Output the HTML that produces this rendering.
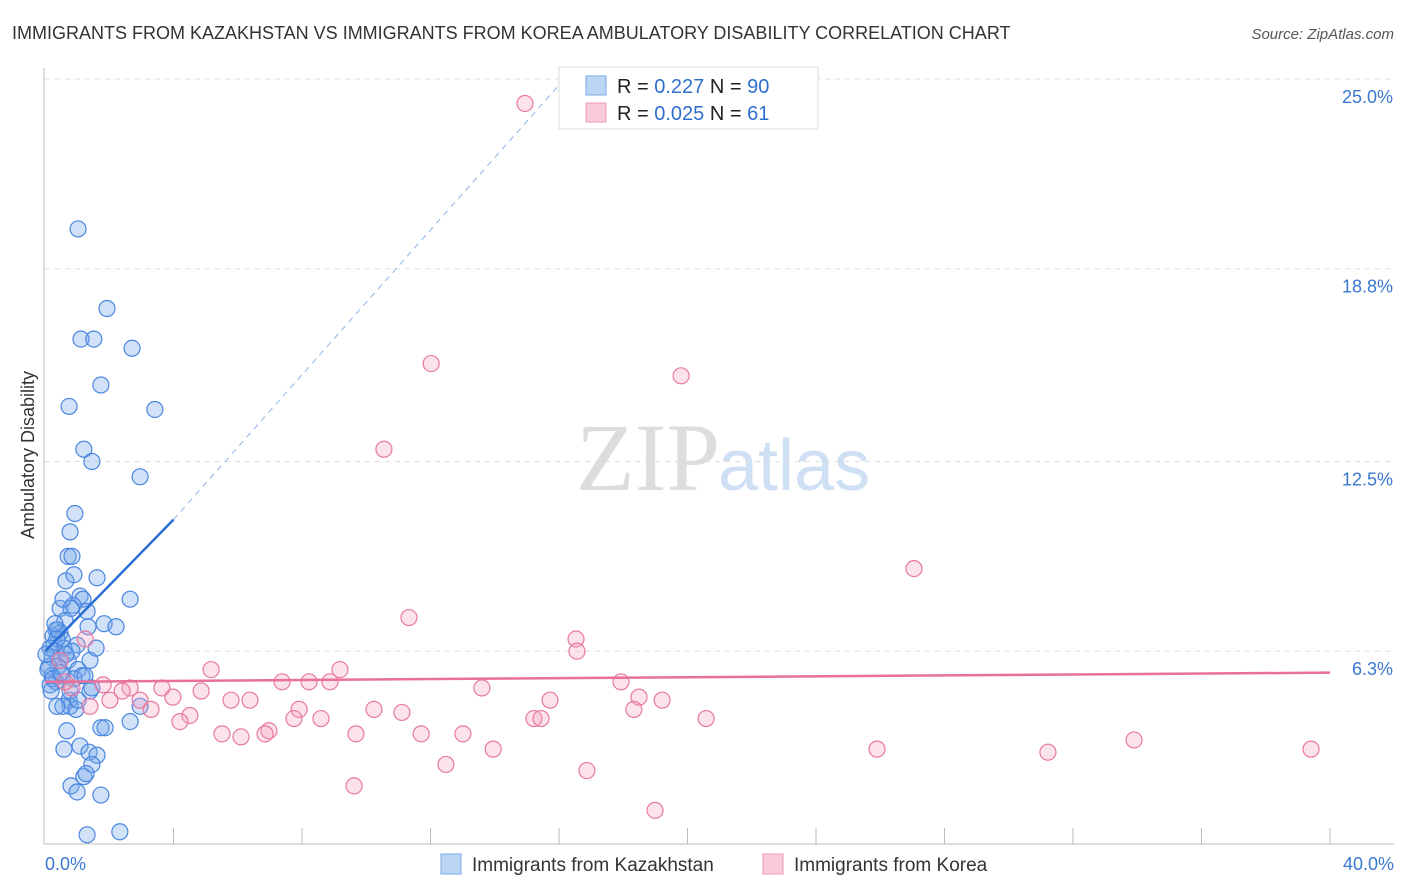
<!DOCTYPE html>
<html><head><meta charset="utf-8"><style>
body{margin:0;background:#fff;font-family:"Liberation Sans",sans-serif;}
svg{display:block}
</style></head><body>
<svg id="c" width="1406" height="892">
<text x="12" y="39" font-size="18" fill="#333">IMMIGRANTS FROM KAZAKHSTAN VS IMMIGRANTS FROM KOREA AMBULATORY DISABILITY CORRELATION CHART</text>
<text x="1394" y="39" font-size="15" fill="#555" font-style="italic" text-anchor="end">Source: ZipAtlas.com</text>
<text x="720" y="490" font-size="96" fill="#ddd" text-anchor="end" font-family="Liberation Serif,serif">ZIP</text>
<text x="718" y="490" font-size="72" fill="#cfe0f5">atlas</text>
<text transform="translate(34,455) rotate(-90)" font-size="18" fill="#333" text-anchor="middle">Ambulatory Disability</text>
<g id="grid"></g><g id="axes"></g><g id="pts"></g><g id="trend"></g>
<g>
<rect x="559" y="67" width="259" height="62" fill="#fff" stroke="#ddd"/>
<rect x="586" y="76" width="20" height="19" fill="#bcd5f5" stroke="#7aa9e6"/>
<rect x="586" y="103" width="20" height="19" fill="#f9cad9" stroke="#ee9ab5"/>
<text x="617" y="93" font-size="20" fill="#222">R = <tspan fill="#2f6fce">0.227</tspan>   N = <tspan fill="#2f6fce">90</tspan></text>
<text x="617" y="120" font-size="20" fill="#222">R = <tspan fill="#2f6fce">0.025</tspan>   N = <tspan fill="#2f6fce"> 61</tspan></text>
</g>
<g>
<rect x="441" y="854" width="20" height="20" fill="#bcd5f5" stroke="#7aa9e6"/>
<text x="472" y="871" font-size="19" fill="#333">Immigrants from Kazakhstan</text>
<rect x="763" y="854" width="20" height="20" fill="#f9cad9" stroke="#ee9ab5"/>
<text x="794" y="871" font-size="19" fill="#333">Immigrants from Korea</text>
</g>
</svg>
<script>
const yTicks=[25.0,18.8,12.5,6.3];
const yTickLabels=["25.0%","18.8%","12.5%","6.3%"];
const xTickLabels=["0.0%","40.0%"];
const blueX=[1.03,1.93,1.12,1.52,2.71,1.74,0.75,3.42,1.21,1.46,2.96,0.93,0.78,0.72,0.84,1.62,0.65,0.9,1.09,1.18,2.65,0.47,0.87,0.81,1.31,0.62,1.84,2.21,1.34,0.34,0.47,0.25,0.53,1.0,0.28,0.59,0.84,0.31,0.22,0.47,0.72,0.40,1.03,1.15,0.12,0.22,0.53,0.9,1.24,0.34,0.16,1.4,1.46,0.75,0.78,0.56,0.37,0.96,2.96,2.65,1.74,1.87,0.59,1.09,1.37,1.62,1.46,1.21,1.28,0.81,1.0,1.74,1.31,2.33,0.37,0.16,0.09,0.25,0.65,0.40,0.5,0.03,0.78,0.31,1.4,0.56,1.59,0.19,1.03,0.68];
const blueY=[20.1,17.5,16.5,16.5,16.2,15.0,14.3,14.2,12.9,12.5,12.0,10.8,10.2,9.4,9.4,8.7,8.6,8.8,8.1,8.0,8.0,7.7,7.8,7.7,7.6,7.3,7.2,7.1,7.1,7.0,6.9,6.8,6.7,6.5,6.5,6.4,6.3,6.3,6.1,6.0,6.0,5.8,5.7,5.5,5.8,5.5,5.5,5.4,5.5,5.3,5.2,5.0,5.1,4.7,4.5,4.5,4.5,4.4,4.5,4.0,3.8,3.8,3.1,3.2,3.0,2.9,2.6,2.2,2.3,1.9,1.7,1.6,0.3,0.4,6.7,6.4,5.7,5.4,6.2,7.0,5.6,6.2,5.0,7.2,6.0,8.0,6.4,5.0,4.7,3.7];
const pinkX=[14.94,12.02,19.8,10.55,27.05,11.33,16.53,16.56,9.18,5.17,8.22,7.38,8.87,3.64,2.65,1.81,13.6,17.93,2.4,4.86,3.98,5.79,6.38,2.02,18.49,19.21,15.72,2.96,7.91,10.24,11.11,3.3,1.4,18.33,4.51,4.2,7.75,8.59,15.22,15.44,20.58,6.97,5.51,6.1,6.85,9.68,11.71,13.01,13.95,25.9,33.9,31.22,39.41,12.48,16.87,9.62,18.99,0.84,0.47,1.25,0.62];
const pinkY=[24.2,15.7,15.3,12.9,9.0,7.4,6.7,6.3,5.7,5.7,5.3,5.3,5.3,5.1,5.1,5.2,5.1,5.3,5.0,5.0,4.8,4.7,4.7,4.7,4.8,4.7,4.7,4.7,4.4,4.4,4.3,4.4,4.5,4.4,4.2,4.0,4.1,4.1,4.1,4.1,4.1,3.7,3.6,3.5,3.6,3.6,3.6,3.6,3.1,3.1,3.4,3.0,3.1,2.6,2.4,1.9,1.1,5.1,6.0,6.7,5.3];
const blueTrend=[0,6.3,4.0,10.6];
const blueDash=[4.0,10.6,16.0,24.8];
const pinkTrend=[0,5.3,40,5.6];
const X=v=>45+v*32.125, Y=v=>844-v*30.6;
const NS="http://www.w3.org/2000/svg";
function mk(t,a,p){const e=document.createElementNS(NS,t);for(const k in a)e.setAttribute(k,a[k]);document.getElementById(p).appendChild(e);return e;}
yTicks.forEach((t,i)=>{
 const g=mk('line',{x1:45,x2:1394,y1:Y(t),y2:Y(t),stroke:'#ddd','stroke-dasharray':'5,5'},'grid');
 
 
 const l=mk('text',{x:1393,y:Y(t)+24,'font-size':18,fill:'#3a78d0','text-anchor':'end'},'axes');
 l.textContent=yTickLabels[i];
 
 
});
const ax=mk('line',{x1:44,x2:44,y1:68,y2:844,stroke:'#bbb'},'axes');


const bx=mk('line',{x1:44,x2:1394,y1:844,y2:844,stroke:'#bbb'},'axes');


for(let i=1;i<=10;i++){const t=mk('line',{x1:X(i*4),x2:X(i*4),y1:828,y2:844,stroke:'#bbb'},'axes');
 
 }
[[0,'start',45],[40,'end',1394]].forEach((d,i)=>{const t=mk('text',{x:d[2],y:870,'font-size':18,fill:'#3a78d0','text-anchor':d[1]},'axes');t.textContent=xTickLabels[i];
 
 });
blueX.forEach((v,i)=>{const c=mk('circle',{cx:X(v),cy:Y(blueY[i]),r:8,fill:'rgba(120,170,235,0.35)',stroke:'#4a86e0','stroke-width':1.2},'pts');
 
 });
pinkX.forEach((v,i)=>{const c=mk('circle',{cx:X(v),cy:Y(pinkY[i]),r:8,fill:'rgba(245,160,190,0.3)',stroke:'#e8799e','stroke-width':1.2},'pts');
 
 });
const t1=mk('line',{x1:X(blueTrend[0]),y1:Y(blueTrend[1]),x2:X(blueTrend[2]),y2:Y(blueTrend[3]),stroke:'#2b6fd6','stroke-width':2.5},'trend');


const t2=mk('line',{x1:X(blueDash[0]),y1:Y(blueDash[1]),x2:X(blueDash[2]),y2:Y(blueDash[3]),stroke:'#8fb3e6','stroke-width':1,'stroke-dasharray':'6,5'},'trend');


const t3=mk('line',{x1:X(pinkTrend[0]),y1:Y(pinkTrend[1]),x2:X(pinkTrend[2]),y2:Y(pinkTrend[3]),stroke:'#e8709a','stroke-width':2.5},'trend');


</script>
</body></html>
